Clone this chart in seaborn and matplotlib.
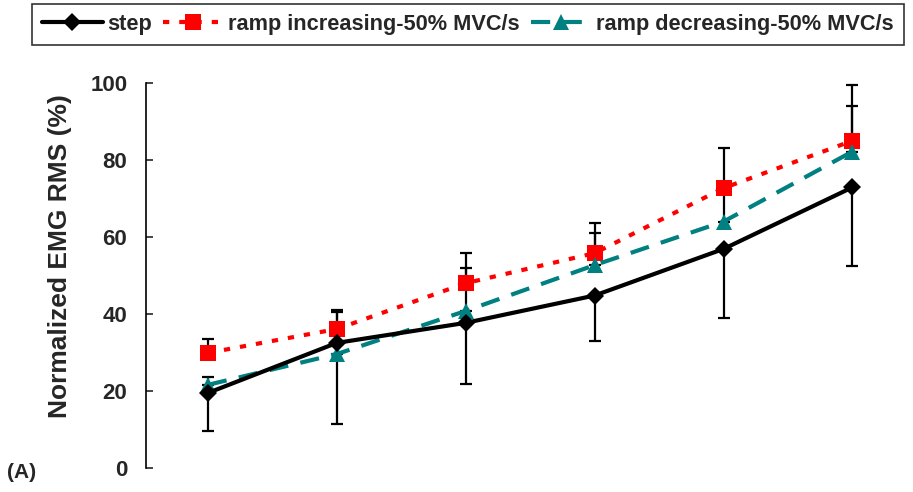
import matplotlib
matplotlib.use("Agg")
import matplotlib.pyplot as plt
import seaborn as sns
import pandas as pd
import numpy as np

# Contraction levels (one point per level)
levels = [1, 2, 3, 4, 5, 6]

# Mean normalized EMG RMS (%) per condition
step = [19.5, 32.5, 37.7, 44.8, 56.9, 72.9]
ramp_inc = [29.9, 36.1, 48.0, 55.8, 72.7, 85.0]
ramp_dec = [21.6, 29.6, 40.8, 52.7, 64.0, 82.2]

# Standard deviations (drawn one-sided)
step_sd = [9.9, 21.1, 15.9, 11.8, 17.9, 20.4]
ramp_inc_sd = [3.6, 4.9, 7.8, 7.9, 10.5, 14.5]
ramp_dec_sd = [2.0, 10.8, 11.1, 8.3, 8.0, 11.8]

series_names = ["step", "ramp increasing-50% MVC/s", "ramp decreasing-50% MVC/s"]

df = pd.DataFrame({
    "level": levels * 3,
    "rms": step + ramp_inc + ramp_dec,
    "sd": step_sd + ramp_inc_sd + ramp_dec_sd,
    "condition": np.repeat(series_names, len(levels)),
})

sns.set_style("white")
plt.rcParams["font.family"] = ["Liberation Sans", "DejaVu Sans"]
plt.rcParams["font.weight"] = "bold"

fig = plt.figure(figsize=(9.13, 4.92), dpi=100)
ax = fig.add_axes([0.16, 0.0488, 0.84, 0.7825])

styles = {
    "step": dict(color="black", marker="D", ms=9, lw=3.0, dashes=None),
    "ramp increasing-50% MVC/s": dict(color="#ff0000", marker="s", ms=11, lw=3.0, dashes=(1.5, 2.4)),
    "ramp decreasing-50% MVC/s": dict(color="#008080", marker="^", ms=11, lw=3.0, dashes=(4.6, 3.0)),
}

# Error bars: step downward, ramps upward
for name, sub in df.groupby("condition", sort=False):
    lower = sub["sd"].values if name == "step" else np.zeros(len(sub))
    upper = np.zeros(len(sub)) if name == "step" else sub["sd"].values
    ax.errorbar(sub["level"], sub["rms"], yerr=[lower, upper], fmt="none",
                ecolor="black", elinewidth=1.6, capsize=4.5, capthick=1.6, zorder=1)

handles = []
for zo, name in zip([4, 2, 3], series_names):
    st = styles[name]
    sub = df[df["condition"] == name]
    kw = dict(color=st["color"], lw=st["lw"], marker=st["marker"], markersize=st["ms"],
              markeredgecolor=st["color"], markeredgewidth=0, zorder=zo)
    if st["dashes"] is not None:
        kw["dashes"] = st["dashes"]
    sns.lineplot(data=sub, x="level", y="rms", ax=ax, errorbar=None, sort=False, **kw)
    handles.append(ax.get_lines()[-1])

ax.set_xlim(0.52, 6.47)
ax.set_ylim(0, 100)
ax.set_yticks([0, 20, 40, 60, 80, 100])
ax.set_xticks([])
for s in ["top", "right", "bottom"]:
    ax.spines[s].set_visible(False)
ax.spines["left"].set_color("black")
ax.spines["left"].set_linewidth(1.2)
ax.tick_params(axis="y", direction="in", length=5, width=1.2, labelsize=16, pad=13.5, left=True)
for t in ax.get_yticklabels():
    t.set_fontweight("bold")
ax.set_xlabel("")
ax.set_ylabel("Normalized EMG RMS (%)", fontsize=19, fontweight="bold")
ax.yaxis.set_label_coords(-0.097, 0.55)

leg = fig.legend(handles, series_names, loc="upper left", bbox_to_anchor=(0.035, 0.992),
                 borderaxespad=0, ncol=3, frameon=True, fancybox=False, edgecolor="black",
                 handlelength=2.8, handletextpad=0.2, columnspacing=0.5, borderpad=0.45,
                 prop=dict(family="Liberation Sans", weight="bold", size=15.7))
leg.get_frame().set_linewidth(1.2)

fig.text(0.008, 0.040, "(A)", fontsize=15, fontweight="bold", ha="left", va="center")

fig.savefig("out.png", dpi=100)
